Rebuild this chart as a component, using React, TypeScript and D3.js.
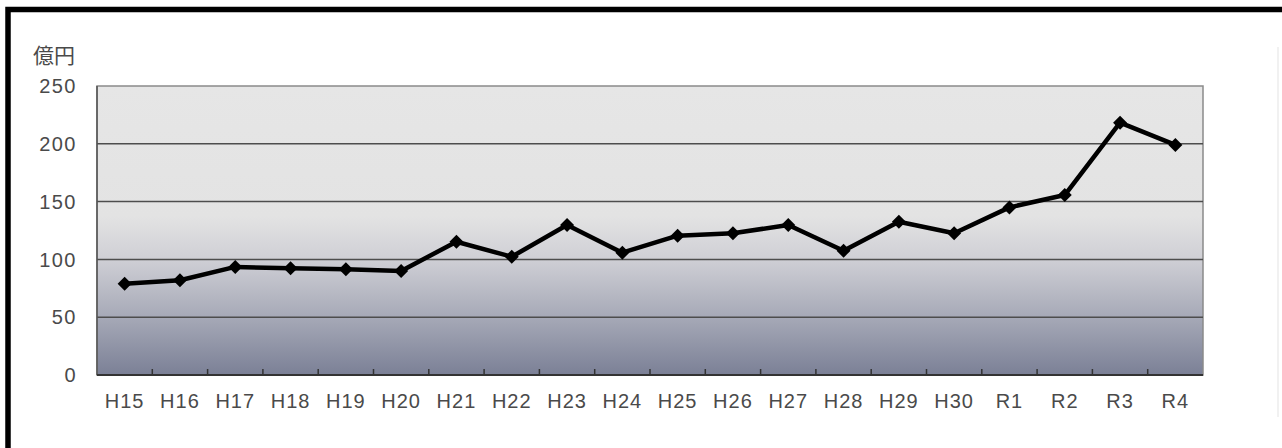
import React from "react";
import * as d3 from "d3";

const categories = ["H15","H16","H17","H18","H19","H20","H21","H22","H23","H24","H25","H26","H27","H28","H29","H30","R1","R2","R3","R4"];
const values = [79, 82, 93.5, 92.3, 91.4, 90, 115.3, 102.3, 129.8, 105.8, 120.5, 122.6, 129.8, 107.5, 132.6, 122.6, 145, 155.7, 218.3, 199];
const yTicks = [0, 50, 100, 150, 200, 250];
const unitLabel = "億円";

const W = 1282, H = 448;
const left = 97, right = 1203, top = 86, bottom = 375;

export default function App() {
  const x = d3.scaleBand<string>().domain(categories).range([left, right]).padding(0);
  const y = d3.scaleLinear().domain([0, 250]).range([bottom, top]);
  const cx = (c: string) => (x(c) as number) + x.bandwidth() / 2;
  const line = d3.line<number>().x((_, i) => cx(categories[i])).y(d => y(d));
  const font = "'Liberation Sans', Arial, sans-serif";
  const diamond = (px: number, py: number) => `M${px},${py - 7}L${px + 7},${py}L${px},${py + 7}L${px - 7},${py}Z`;

  return (
    <svg width={W} height={H} style={{ position: "absolute", left: 0, top: 0, background: "#fff" }}>
      <defs>
        <linearGradient id="bg" x1="0" y1="0" x2="0" y2="1">
          <stop offset="0%" stopColor="#e6e6e6" />
          <stop offset="45%" stopColor="#e3e3e3" />
          <stop offset="60%" stopColor="#cfcfd5" />
          <stop offset="80%" stopColor="#a6a9b7" />
          <stop offset="100%" stopColor="#7b8096" />
        </linearGradient>
      </defs>
      {/* outer frame */}
      <path d={`M8,${H}L8,9.5L${W},9.5`} fill="none" stroke="#000" strokeWidth={5.5} />
      <line x1={1278} x2={1278} y1={47} y2={417} stroke="#ececec" strokeWidth={1.5} />

      {/* plot area */}
      <rect x={left} y={top} width={right - left} height={bottom - top} fill="url(#bg)" stroke="#8a8a8a" strokeWidth={1.5} />
      {yTicks.filter(t => t > 0 && t < 250).map(t => (
        <line key={t} x1={left} x2={right} y1={y(t)} y2={y(t)} stroke="#4d4d4d" strokeWidth={1.5} />
      ))}
      <line x1={left} x2={left} y1={top} y2={bottom} stroke="#555" strokeWidth={1.5} />
      <line x1={left} x2={right} y1={bottom} y2={bottom} stroke="#333" strokeWidth={2} />
      {categories.slice(1).map(c => (
        <line key={c} x1={x(c) as number} x2={x(c) as number} y1={bottom} y2={bottom - 6} stroke="#333" strokeWidth={1.5} />
      ))}

      {/* y labels */}
      {yTicks.map(t => (
        <text key={t} x={77} y={y(t)} dy="0.36em" textAnchor="end" fontFamily={font} fontSize={20} fill="#4a4a4a" letterSpacing={1.5}>{t}</text>
      ))}
      <text x={33} y={63} fontFamily="'Noto Sans CJK JP', sans-serif" fontSize={21} fill="#4a4a4a">{unitLabel}</text>

      {/* x labels */}
      {categories.map(c => (
        <text key={c} x={cx(c)} y={408} textAnchor="middle" fontFamily={font} fontSize={20} fill="#4a4a4a" letterSpacing={1}>{c}</text>
      ))}

      {/* series */}
      <path d={line(values) as string} fill="none" stroke="#000" strokeWidth={4.5} strokeLinejoin="round" />
      {values.map((v, i) => (
        <path key={i} d={diamond(cx(categories[i]), y(v))} fill="#000" />
      ))}
    </svg>
  );
}
